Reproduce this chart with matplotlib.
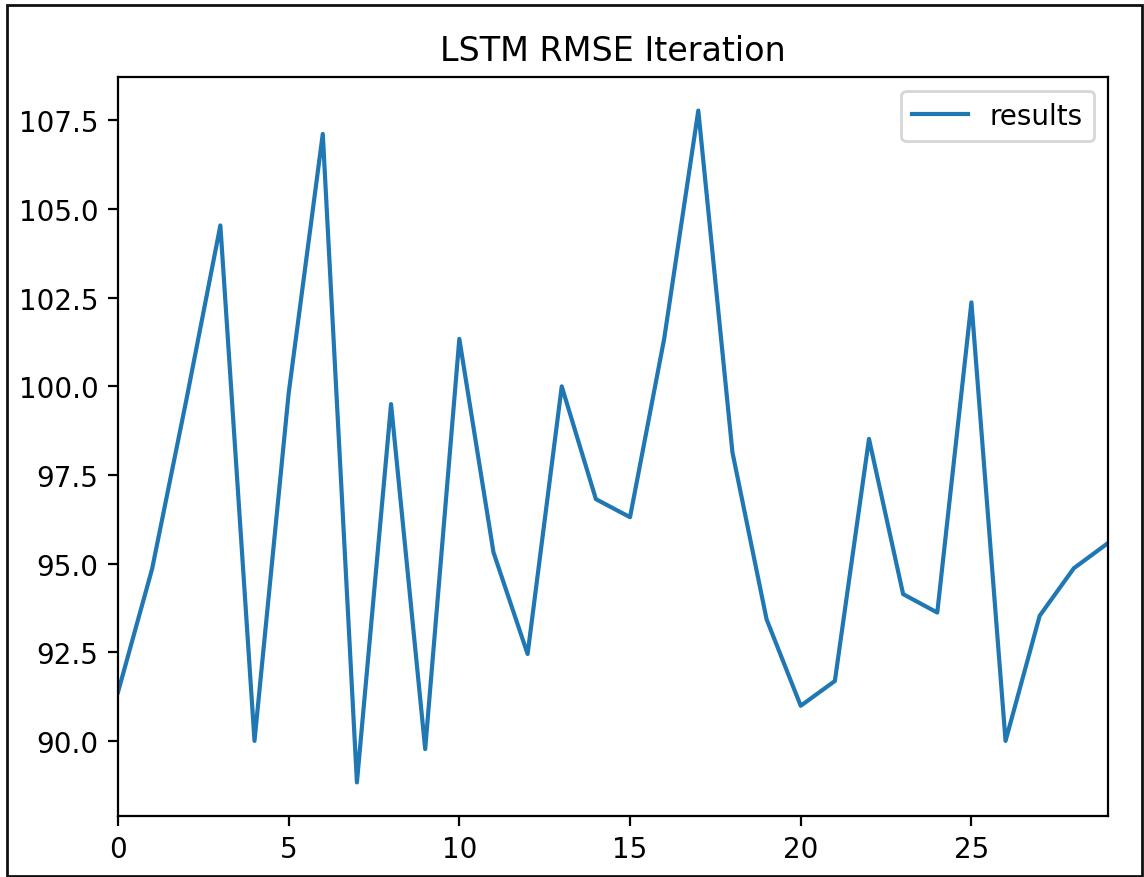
import numpy as np
import matplotlib
matplotlib.use("Agg")
import matplotlib.pyplot as plt
from matplotlib.patches import Rectangle

# RMSE per iteration
iterations = list(range(30))
results = [91.37, 94.85, 99.6, 104.54, 90.0, 99.8, 107.12, 88.83, 99.5, 89.77,
           101.34, 95.32, 92.45, 100.0, 96.82, 96.31, 101.34, 107.78, 98.14, 93.43,
           90.99, 91.69, 98.52, 94.14, 93.62, 102.37, 90.0, 93.53, 94.87, 95.58]

fig = plt.figure(figsize=(5.72, 4.39), dpi=200)

# thin black frame around the whole picture
frame = Rectangle((0.0057, 0.0017), 0.9926, 0.9909, transform=fig.transFigure,
                  fill=False, edgecolor="#111111", linewidth=1.0)
fig.patches.append(frame)

ax = fig.add_axes([0.1031, 0.0695, 0.8654, 0.8417])
ax.plot(iterations, results, label="results")
ax.set_xlim(iterations[0], iterations[-1])
ax.set_title("LSTM RMSE Iteration")
ax.legend(loc="upper right")

fig.savefig("out.png", dpi=200)
